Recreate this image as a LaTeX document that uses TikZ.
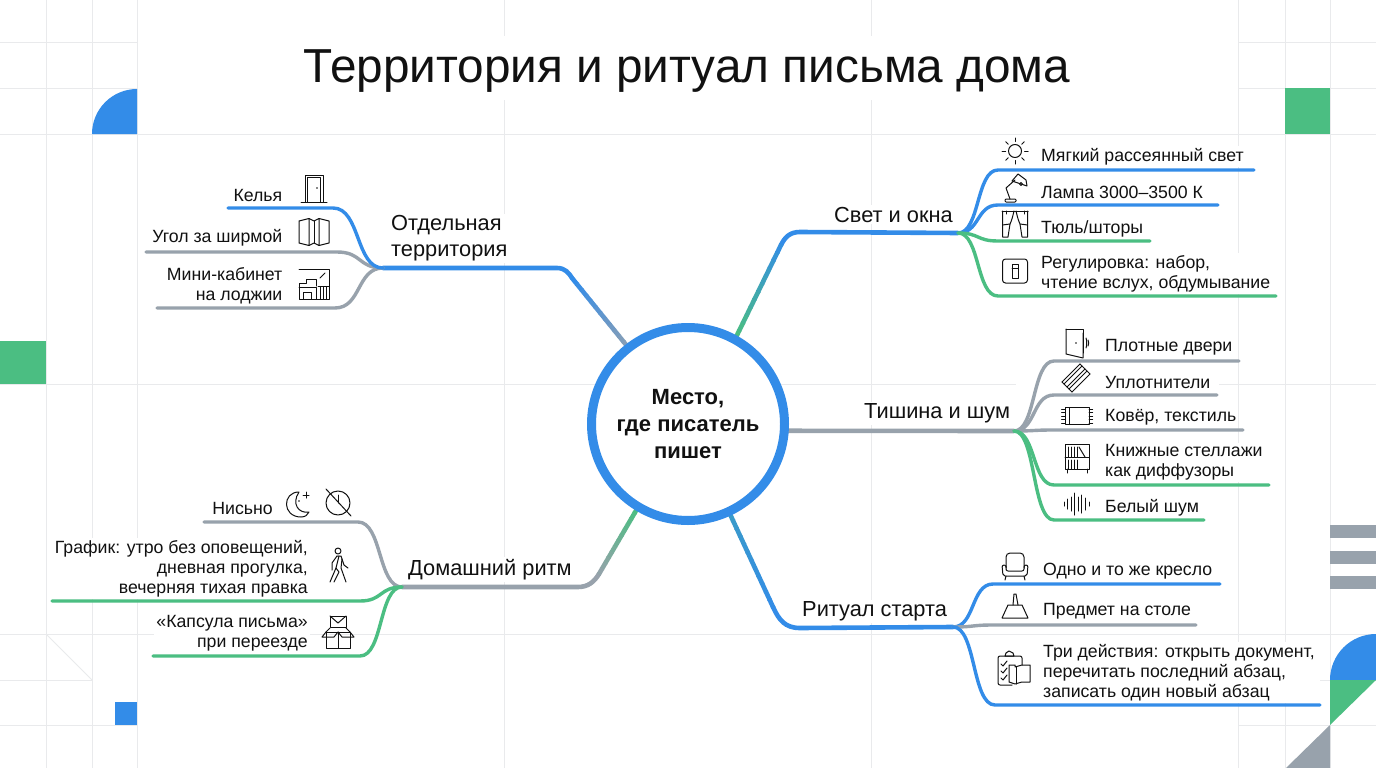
\documentclass[tikz,border=0pt]{standalone}
\usepackage{fontspec}
\setmainfont{Liberation Sans}
\usetikzlibrary{calc}
\definecolor{inkblue}{HTML}{338CE8}
\definecolor{inkgreen}{HTML}{4BBE82}
\definecolor{inkgrey}{HTML}{98A2AC}
\definecolor{gridgrey}{HTML}{E9EAEC}
\definecolor{inktext}{HTML}{111111}
\tikzset{
  every node/.style={text=inktext,inner sep=2pt},
  gridline/.style={draw=gridgrey,line width=1pt},
  twigline/.style={line width=3.4pt,line cap=round},
  trunkline/.style={line width=4.6pt,line cap=round},
  leafl/.style={fill=white,anchor=east,align=right,yshift=-1.5pt,font=\fontsize{17.7}{20}\selectfont},
  leafr/.style={fill=white,anchor=west,align=left,yshift=-1.5pt,font=\fontsize{17.7}{20}\selectfont},
  topic/.style={fill=white,anchor=west,align=left,yshift=-1.5pt,font=\fontsize{21.8}{26}\selectfont},
  twig/.style={to path={let \p1=(\tikztostart),\p2=(\tikztotarget) in
    .. controls ({\x1+.55*(#1pt-\x1)},\y1) and ({#1pt-.55*(#1pt-\x1)},\y2) .. (#1pt,\y2) -- (\tikztotarget)}},
  icon/.style={draw=inktext,line width=1pt,line join=round,line cap=round},
  pics/door/.style={code={
    \draw[icon] (-9,13) -- (-9,-14) -- (9,-14) -- (9,13);
    \draw[icon] (-6.5,13) -- (-6.5,-11.5) -- (6.5,-11.5) -- (6.5,13);
    \draw[icon] (-13,13.5) -- (13,13.5);
    \fill[inktext] (3,-1) circle (.9);}},
  pics/foldscreen/.style={code={
    \draw[icon] (-15,-11) -- (-5,-13.5) -- (-5,13.5) -- (-15,11) -- cycle;
    \draw[icon] (-5,-13.5) -- (0,-11) -- (5,-13.5) -- (5,13.5) -- (0,11) -- (-5,13.5);
    \draw[icon] (5,-13.5) -- (15,-11) -- (15,11) -- (5,13.5);
    \draw[icon] (0,-11) -- (0,11);}},
  pics/loggia/.style={code={
    \draw[icon] (-15,-15) -- (15,-15) -- (15,15) -- (-15,15) -- (-15,-1) -- (-8,-1) -- (-8,-5) -- (2,-5) -- (2,2);
    \draw[icon] (-15,3) -- (2,3) -- (2,15);
    \draw[icon] (-11,15) -- (-11,8) -- (-3,8) -- (-3,15);
    \foreach \x in {6,9,12} \draw[icon] (\x,3) -- (\x,15);
    \draw[icon] (4,2) -- (15,2);
    \draw[icon] (6,-6) -- (11,-11);}},
  pics/sun/.style={code={
    \draw[icon] (0,0) circle (6.5);
    \foreach \a in {0,45,...,315} \draw[icon] (\a:9.5) -- (\a:13);}},
  pics/desklamp/.style={code={
    \draw[icon,rounded corners=1pt] (-10,14) -- (-10,11) -- (1,11) -- (1,14) -- cycle;
    \draw[icon] (-5,11) -- (-9,0) -- (0,-8);
    \draw[icon] (-3,-7) -- (3,-14) -- (11,-8) -- (12,-2) -- cycle;
    \draw[icon] (6,-4) circle (1.5);}},
  pics/curtain/.style={code={
    \draw[icon] (-13,-13) -- (13,-13);
    \foreach \s in {1,-1} {
      \draw[icon] (\s*12.5,-13) -- (\s*12.5,13) -- (\s*7,13) -- (\s*5,0) .. controls (\s*3,-4) and (\s*2,-9) .. (\s*1,-13);
      \draw[icon] (\s*12.5,1) -- (\s*5,0);
      \draw[icon] (\s*9,-13) -- (\s*9,-10);}}},
  pics/dimmer/.style={code={
    \draw[icon,rounded corners=3pt] (-12.5,-12) rectangle (12.5,12);
    \draw[icon] (-3,-7) rectangle (3,7);
    \draw[icon] (-3,-3) -- (3,-3);}},
  pics/heavydoor/.style={code={
    \draw[icon] (-11,-14) -- (6,-14) -- (6,10);
    \draw[icon] (-11,-14) -- (-11,11) -- (6,15) -- (6,-10);
    \fill[inktext] (-1,0) circle (.9);
    \draw[icon] (9,-5) .. controls (10,-2) and (10,2) .. (9,5);
    \draw[icon] (11,-3) .. controls (12,-1) and (12,1) .. (11,3);}},
  pics/sealstrip/.style={code={
    \foreach \o in {-5,-3,0,2,5} \draw[icon] ($(-10,8)+(\o,\o)$) -- ($(8,-10)+(\o,\o)$);
    \draw[icon] (-15,3) -- (-5,13);
    \draw[icon] (3,-15) -- (13,-5);}},
  pics/carpet/.style={code={
    \draw[icon] (-12,-8.5) rectangle (12,8.5);
    \draw[icon] (-8,-8.5) -- (-8,8.5);
    \foreach \y in {-7,-3.5,0,3.5,7} {\draw[icon] (-15.5,\y) -- (-12,\y); \draw[icon] (12,\y) -- (15.5,\y);}}},
  pics/bookshelf/.style={code={
    \draw[icon] (-12,-14) rectangle (12,11);
    \draw[icon] (-12,-1) -- (12,-1);
    \draw[icon] (-10,11) -- (-10,15); \draw[icon] (10,11) -- (10,15);
    \foreach \x in {-9,-6,-3,0} {\draw[icon] (\x,-11) -- (\x,-1); \draw[icon] (\x,2) -- (\x,11);}
    \draw[icon] (2,-11) -- (8,-1);}},
  pics/soundwave/.style={code={
    \foreach \x/\h in {-13/2,-9.5/5,-6/7,-2.5/11,1/7,4.5/9,8/6,12/2} \draw[icon] (\x,-\h) -- (\x,\h);}},
  pics/armchair/.style={code={
    \draw[icon,rounded corners=4pt] (-9,2) -- (-9,-13) -- (9,-13) -- (9,2);
    \draw[icon,rounded corners=2pt] (-9,2) -- (-9,-1) -- (-13,-1) -- (-12,10) -- (12,10) -- (13,-1) -- (9,-1) -- (9,5) -- (-9,5) -- cycle;
    \draw[icon] (-9,10) -- (-10,14); \draw[icon] (9,10) -- (10,14);}},
  pics/weight/.style={code={
    \draw[icon] (-13,12) -- (13,12) -- (7,-1) -- (-7,-1) -- cycle;
    \draw[icon] (-2,-1) -- (-1,-12) -- (1,-12) -- (3,-1);}},
  pics/checklist/.style={code={
    \draw[icon,rounded corners=2pt] (-3,17) -- (-17,17) -- (-17,-12) -- (7,-12) -- (7,-3);
    \draw[icon] (-10,-12) -- (-9,-15) -- (-6,-17) -- (-2,-15) -- (-1,-12) -- cycle;
    \foreach \y in {-4,3,10} \draw[icon] (-14,\y) -- (-12,\y+2) -- (-8,\y-3);
    \draw[icon] (0,-3) -- (-6,-3) -- (-6,14) -- (0,16) -- (7,14) -- (15,14) -- (15,-3) -- (7,-3) -- (0,-1) -- cycle;
    \draw[icon] (1,-1) -- (1,16);}},
  pics/moon/.style={code={
    \draw[icon] (2,-12) .. controls (-15,-12) and (-15,13) .. (4,13) .. controls (8,13) and (11,11) .. (12,8) .. controls (2,10) and (-6,0) .. cycle;
    \draw[icon] (9,-12) -- (9,-6); \draw[icon] (6,-9) -- (12,-9);
    \fill[inktext] (2,-3) circle (.9);}},
  pics/noclock/.style={code={
    \draw[icon] (0,0) circle (12);
    \draw[icon] (-12,-14) -- (13,13);
    \draw[icon] (0,-8) -- (0,0);}},
  pics/walker/.style={code={
    \draw[icon] (0,-14) circle (3);
    \draw[icon] (-1,-9) -- (3,-9) -- (6,0) -- (10,3);
    \draw[icon] (-1,-9) -- (-6,-2) -- (-6,5);
    \draw[icon] (1,-9) -- (-2,3) -- (-8,17);
    \draw[icon] (4,-6) -- (3,3) -- (8,17);
    \draw[icon] (-2,3) -- (1,7) -- (-4,17);}},
  pics/parcel/.style={code={
    \draw[icon] (-8,-16) rectangle (8,-5);
    \draw[icon] (-8,-16) -- (0,-9) -- (8,-16);
    \draw[icon] (-12,0) rectangle (12,16);
    \draw[icon] (0,0) -- (0,16);
    \draw[icon] (-12,0) -- (-16,5) -- (-4,5) -- (0,0) -- (4,5) -- (16,5) -- (12,0);
    \draw[icon] (-12,0) -- (-8,-4); \draw[icon] (12,0) -- (8,-4);}}
}
\newcommand{\fadeline}[4]{%
  \foreach \t [evaluate=\t as \u using \t+1, evaluate=\t as \c using 100-\t*8.33] in {0,...,11}
    \draw[line width=4.6pt,#3!\c!#4] ($(#1)!\t/12!(#2)$) -- ($(#1)!{\u/12+.01}!(#2)$);}
\begin{document}
\begin{tikzpicture}[x=1pt,y=-1pt]
\useasboundingbox (0,0) rectangle (1376,768);
\fill[white] (0,0) rectangle (1376,768);

\foreach \x in {46,92,137,1238,1285,1330} \draw[gridline] (\x,0) -- (\x,768);
\foreach \x in {504,871} {\draw[gridline] (\x,0) -- (\x,36); \draw[gridline] (\x,100) -- (\x,768);}
\foreach \y in {43,88} {\draw[gridline] (0,\y) -- (137,\y); \draw[gridline] (1238,\y) -- (1376,\y);}
\draw[gridline] (0,134) -- (1376,134);
\draw[gridline] (0,384) -- (1016,384);
\draw[gridline] (1219,384) -- (1376,384);
\draw[gridline] (0,634) -- (1376,634);
\draw[gridline] (0,680) -- (92,680);
\draw[gridline] (1320,680) -- (1376,680);
\draw[gridline] (0,725) -- (137,725);
\draw[gridline] (1238,725) -- (1376,725);
\draw[gridline] (46,634) -- (92,680);

\fill[inkblue] (137,134) -- (92,134) arc (180:270:45) -- cycle;
\fill[inkgreen] (1285,88) rectangle (1330,134);
\fill[inkgreen] (0,341) rectangle (46,384);
\fill[inkblue] (114.5,702) rectangle (137,725);
\foreach \y in {525,551,576} \fill[inkgrey] (1330,\y) rectangle (1376,\y+13);
\fill[inkblue] (1376,680) -- (1330,680) arc (180:270:46) -- cycle;
\fill[inkgreen] (1330,680) -- (1376,680) -- (1330,725) -- cycle;
\fill[inkgrey] (1330,725) -- (1330,768) -- (1286,768) -- cycle;

\node[font=\fontsize{47.7}{56}\selectfont] (title) at (687,71) {Территория и ритуал письма дома};

\node[topic] (separate) at (389,237) {Отдельная\\территория};
\node[topic] (light) at (832,213) {Свет и окна};
\node[topic] (silence) at (862,412) {Тишина и шум};
\node[topic] (start) at (800,610) {Ритуал старта};
\node[topic] (rhythm) at (406,568) {Домашний ритм};

\node[leafl] (cell) at (284.5,194) {Келья};
\node[leafl] (corner) at (284.5,236) {Угол за ширмой};
\node[leafl] (mini) at (284.5,284) {Мини-кабинет\\на лоджии};
\node[leafr] (soft) at (1039,155) {Мягкий рассеянный свет};
\node[leafr] (bulb) at (1039,191) {Лампа 3000–3500 К};
\node[leafr] (tulle) at (1039,227) {Тюль/шторы};
\node[leafr] (adjust) at (1039,272) {Регулировка: набор,\\чтение вслух, обдумывание};
\node[leafr] (doors) at (1103,346) {Плотные двери};
\node[leafr] (seals) at (1103,381) {Уплотнители};
\node[leafr] (rug) at (1103,416) {Ковёр, текстиль};
\node[leafr] (shelves) at (1103,461) {Книжные стеллажи\\как диффузоры};
\node[leafr] (noise) at (1103,506) {Белый шум};
\node[leafr] (chair) at (1041,570) {Одно и то же кресло};
\node[leafr] (object) at (1041,610) {Предмет на столе};
\node[leafr] (steps) at (1041,671) {Три действия: открыть документ,\\перечитать последний абзац,\\записать один новый абзац};
\node[leafl] (nisno) at (275,507) {Нисьно};
\node[leafl] (plan) at (310,567) {График: утро без оповещений,\\дневная прогулка,\\вечерняя тихая правка};
\node[leafl] (capsule) at (310,632) {«Капсула письма»\\при переезде};

\coordinate (hubsep) at (383,268);
\coordinate (hublight) at (958,233);
\coordinate (hubsilence) at (1014,431);
\coordinate (hubstart) at (953,627);
\coordinate (hubrhythm) at (402,587);

\node[minimum size=194,inner sep=0pt,circle] (place) at (688,424) {};

\draw[trunkline,inkblue] (hubsep) -- (557,268) .. controls (565,268) and (569,273) .. (572,278);
\fadeline{572,278}{place.128}{inkblue}{inkgrey!90!inkblue}
\draw[trunkline,inkblue] (hublight) -- (800,232) .. controls (790,232) and (785,237) .. (781,245);
\fadeline{place.61}{781,245}{inkgreen}{inkblue}
\draw[trunkline,inkgrey] (place.-4) -- (hubsilence);
\draw[trunkline,inkblue] (hubstart) -- (800,628) .. controls (785,628) and (779,620) .. (773,607);
\fadeline{place.-65}{773,607}{inkblue!70!inkgreen}{inkblue}
\draw[trunkline,inkgrey] (hubrhythm) -- (578,587) .. controls (588,587) and (594,582) .. (599,574);
\fadeline{place.239}{599,574}{inkgreen}{inkgrey}

\coordinate (endcell) at (228,208);
\coordinate (endcorner) at (146,252);
\coordinate (endmini) at (157,308);
\coordinate (endsoft) at (1254,170);
\coordinate (endbulb) at (1218,205);
\coordinate (endtulle) at (1150,241);
\coordinate (endadjust) at (1276,296);
\coordinate (enddoors) at (1239,361);
\coordinate (endseals) at (1217,395);
\coordinate (endrug) at (1243,430);
\coordinate (endshelves) at (1269,485);
\coordinate (endnoise) at (1204,520);
\coordinate (endchair) at (1220,584);
\coordinate (endobject) at (1196,625);
\coordinate (endsteps) at (1320,705);
\coordinate (endnisno) at (204,522);
\coordinate (endplan) at (52,601);
\coordinate (endcapsule) at (153,656);

\draw[twigline,inkgrey] (hubsep) to[twig=337] (endcorner);
\draw[twigline,inkgrey] (hubsep) to[twig=335] (endmini);
\draw[twigline,inkblue] (hubsep) to[twig=333] (endcell);
\draw[twigline,inkblue] (hublight) to[twig=998] (endsoft);
\draw[twigline,inkblue] (hublight) to[twig=998] (endbulb);
\draw[twigline,inkgreen] (hublight) to[twig=998] (endtulle);
\draw[twigline,inkgreen] (hublight) to[twig=998] (endadjust);
\draw[twigline,inkgrey] (hubsilence) to[twig=1054] (enddoors);
\draw[twigline,inkgrey] (hubsilence) to[twig=1054] (endseals);
\draw[twigline,inkgrey] (hubsilence) to[twig=1054] (endrug);
\draw[twigline,inkgreen] (hubsilence) to[twig=1054] (endshelves);
\draw[twigline,inkgreen] (hubsilence) to[twig=1054] (endnoise);
\draw[twigline,inkblue] (hubstart) to[twig=993] (endchair);
\draw[twigline,inkgrey] (hubstart) to[twig=993] (endobject);
\draw[twigline,inkblue] (hubstart) to[twig=995] (endsteps);
\draw[twigline,inkgrey] (hubrhythm) to[twig=358] (endnisno);
\draw[twigline,inkgreen] (hubrhythm) to[twig=360] (endplan);
\draw[twigline,inkgreen] (hubrhythm) to[twig=360] (endcapsule);

\pic at (314,189) {door};
\pic at (314,232) {foldscreen};
\pic at (314,284) {loggia};
\pic at (1015,151) {sun};
\pic at (1015,188) {desklamp};
\pic at (1015,224) {curtain};
\pic at (1015,271) {dimmer};
\pic at (1077,343) {heavydoor};
\pic at (1077,379) {sealstrip};
\pic at (1077,416) {carpet};
\pic at (1077,458) {bookshelf};
\pic at (1077,504) {soundwave};
\pic at (1015,566) {armchair};
\pic at (1015,606) {weight};
\pic at (1015,668) {checklist};
\pic at (297,504) {moon};
\pic at (338,503) {noclock};
\pic at (338,565) {walker};
\pic at (338,632) {parcel};

\node[draw=inkblue,fill=white,line width=9pt,circle,minimum size=193,inner sep=0pt,align=center,font=\bfseries\fontsize{22}{27}\selectfont] (placetext) at (688,424) {Место,\\где писатель\\пишет};
\end{tikzpicture}
\end{document}
